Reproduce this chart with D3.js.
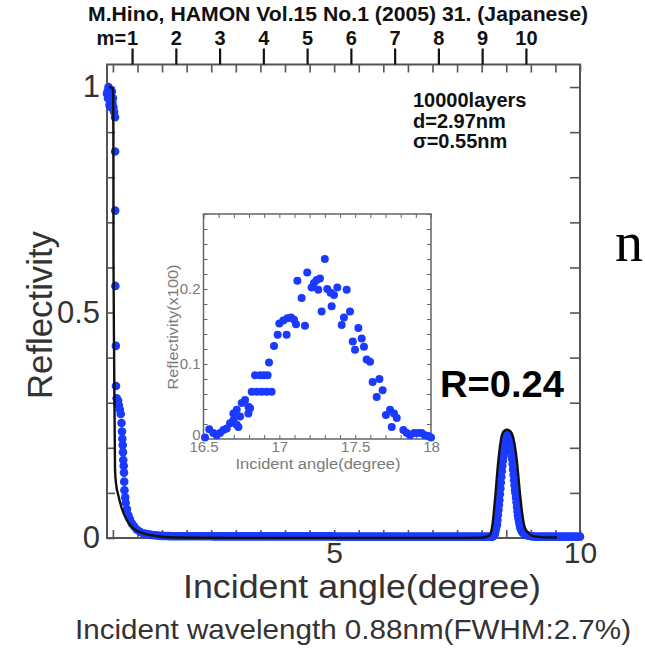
<!DOCTYPE html>
<html>
<head>
<meta charset="utf-8">
<script src="https://cdn.jsdelivr.net/npm/d3@7"></script>
<style>
  html, body { margin: 0; padding: 0; background: #fff; }
  svg { display: block; }
</style>
</head>
<body>
<svg id="chart" width="645" height="653"></svg>
<script>
// ---------------- data ----------------
// Measured reflectivity below and around the critical angle: [angle (deg), R]
const lowAngleScan = [
  [0.38, 0.985], [0.39, 0.99], [0.40, 0.975], [0.41, 1.0], [0.42, 0.985], [0.43, 0.96],
  [0.44, 0.995], [0.45, 0.97], [0.46, 0.985], [0.47, 0.955], [0.48, 0.99], [0.49, 0.965],
  [0.50, 0.975], [0.51, 0.955], [0.525, 0.945], [0.543, 0.933], [0.545, 0.857],
  [0.547, 0.726], [0.55, 0.559], [0.56, 0.426], [0.563, 0.337], [0.577, 0.31],
  [0.59, 0.30], [0.604, 0.305], [0.62, 0.295], [0.64, 0.285], [0.66, 0.275],
  [0.675, 0.255], [0.685, 0.236], [0.692, 0.22], [0.699, 0.206], [0.705, 0.19],
  [0.711, 0.173], [0.72, 0.16], [0.726, 0.145], [0.73, 0.125], [0.735, 0.106],
  [0.75, 0.09], [0.76, 0.078], [0.785, 0.064], [0.813, 0.051], [0.845, 0.042],
  [0.882, 0.033], [0.93, 0.026], [0.984, 0.019], [1.05, 0.014], [1.118, 0.010]
];

// Wide-angle scan, 0.05 deg steps from 1.15 deg
const wideScanStart = 1.15;
const wideScanStep = 0.05;
const wideScanValues = [
  0.0095, 0.0085, 0.0075, 0.0068, 0.0060, 0.0055, 0.0050, 0.0048, 0.0045, 0.0043,
  0.0042, 0.0040, 0.0040, 0.0040, 0.0040, 0.0040, 0.0040, 0.0040, 0.0040, 0.0040,
  0.0040, 0.0040, 0.0040, 0.0040, 0.0040, 0.0040, 0.0040, 0.0040, 0.0035, 0.0035,
  0.0035, 0.0035, 0.0035, 0.0035, 0.0035, 0.0035, 0.0035, 0.0035, 0.0035, 0.0035,
  0.0035, 0.0035, 0.0035, 0.0035, 0.0035, 0.0035, 0.0035, 0.0035, 0.0035, 0.0035,
  0.0035, 0.0035, 0.0035, 0.0035, 0.0035, 0.0035, 0.0035, 0.0035, 0.0035, 0.0035,
  0.0035, 0.0035, 0.0035, 0.0035, 0.0035, 0.0035, 0.0035, 0.0035, 0.0035, 0.0035,
  0.0035, 0.0035, 0.0035, 0.0035, 0.0035, 0.0035, 0.0035, 0.0035, 0.0030, 0.0030,
  0.0030, 0.0030, 0.0030, 0.0030, 0.0030, 0.0030, 0.0030, 0.0030, 0.0030, 0.0030,
  0.0030, 0.0030, 0.0030, 0.0030, 0.0030, 0.0030, 0.0030, 0.0030, 0.0030, 0.0030,
  0.0030, 0.0030, 0.0030, 0.0030, 0.0030, 0.0030, 0.0030, 0.0030, 0.0030, 0.0030,
  0.0030, 0.0030, 0.0030, 0.0030, 0.0030, 0.0030, 0.0030, 0.0030, 0.0030, 0.0030,
  0.0030, 0.0030, 0.0030, 0.0030, 0.0030, 0.0030, 0.0030, 0.0030, 0.0030, 0.0030,
  0.0030, 0.0030, 0.0030, 0.0030, 0.0030, 0.0030, 0.0030, 0.0030, 0.0030, 0.0030,
  0.0030
];

// Fine scan over the Bragg peak, 0.01 deg steps from 8.20 deg
const peakScanStart = 8.20;
const peakScanStep = 0.01;
const peakScanValues = [
  0.003, 0.003, 0.004, 0.004, 0.005, 0.006, 0.007, 0.011, 0.016, 0.021,
  0.026, 0.030, 0.040, 0.051, 0.062, 0.073, 0.084, 0.097, 0.110, 0.123,
  0.136, 0.148, 0.160, 0.171, 0.180, 0.189, 0.197, 0.205, 0.213, 0.220,
  0.226, 0.229, 0.231, 0.229, 0.226, 0.222, 0.217, 0.210, 0.203, 0.195,
  0.190, 0.183, 0.175, 0.164, 0.152, 0.140, 0.128, 0.117, 0.106, 0.099,
  0.089, 0.079, 0.069, 0.059, 0.050, 0.044, 0.038, 0.032, 0.027, 0.022,
  0.019, 0.017, 0.015, 0.013, 0.012, 0.011, 0.010, 0.009, 0.0085, 0.008,
  0.007
];

// Scan above the peak, 0.05 deg steps from 8.95 deg
const tailScanStart = 8.95;
const tailScanStep = 0.05;
const tailScanValues = [
  0.0050, 0.0040, 0.0035, 0.0030, 0.0030, 0.0030, 0.0030, 0.0030, 0.0030, 0.0030,
  0.0030, 0.0030, 0.0030, 0.0030, 0.0030, 0.0030, 0.0030, 0.0030, 0.0030, 0.0030,
  0.0030, 0.0030
];

// Calculated reflectivity (10000 layers, d=2.97nm, sigma=0.55nm)
const theoryAngles = [
  0.42, 0.49, 0.505, 0.51, 0.512, 0.525, 0.543, 0.563, 0.61, 0.679, 0.78, 0.916,
  1.12, 1.39, 1.66, 2.2, 3.0, 4.5, 6.0, 7.5, 8.0, 8.1, 8.169, 8.22, 8.27, 8.338,
  8.407, 8.46, 8.52, 8.58, 8.643, 8.712, 8.779, 8.83, 8.881, 8.983, 9.05, 9.2, 9.53
];
const theoryValues = [
  1.0, 0.998, 0.985, 0.9, 0.62, 0.4, 0.151, 0.121, 0.095, 0.066, 0.040, 0.0215,
  0.0104, 0.0044, 0.0015, 0.0006, 0.0003, 0.0002, 0.0002, 0.0003, 0.0008, 0.003, 0.007, 0.03, 0.084, 0.17,
  0.226, 0.238, 0.24, 0.237, 0.222, 0.175, 0.099, 0.05, 0.022, 0.008, 0.004, 0.002, 0.001
];
const peakReflectivity = 0.24;

// Inset: measured peak, [angle (deg), reflectivity x100]
const insetScan = [
  [16.51, 0.002], [16.538, 0.013], [16.565, 0.008], [16.587, 0.005], [16.609, 0.008],
  [16.631, 0.012], [16.653, 0.014], [16.675, 0.021], [16.697, 0.025], [16.719, 0.019],
  [16.73, 0.016], [16.697, 0.034], [16.719, 0.039], [16.741, 0.030], [16.752, 0.048],
  [16.774, 0.052], [16.796, 0.043], [16.796, 0.034], [16.807, 0.041], [16.818, 0.063],
  [16.851, 0.063], [16.884, 0.063], [16.916, 0.063], [16.949, 0.063], [16.84, 0.085],
  [16.873, 0.085], [16.899, 0.085], [16.923, 0.085], [16.932, 0.102], [16.965, 0.124],
  [16.989, 0.139], [17.048, 0.139], [17.0, 0.154], [17.026, 0.158], [17.053, 0.161],
  [17.077, 0.162], [17.097, 0.159], [17.11, 0.153], [17.169, 0.151], [17.119, 0.211],
  [17.147, 0.188], [17.184, 0.222], [17.213, 0.202], [17.228, 0.208], [17.246, 0.212],
  [17.268, 0.214], [17.257, 0.199], [17.3, 0.24], [17.279, 0.17], [17.316, 0.2],
  [17.338, 0.195], [17.36, 0.192], [17.382, 0.202], [17.444, 0.199], [17.345, 0.177],
  [17.411, 0.152], [17.426, 0.162], [17.466, 0.17], [17.484, 0.13], [17.499, 0.119],
  [17.521, 0.148], [17.543, 0.134], [17.558, 0.123], [17.576, 0.106], [17.598, 0.103],
  [17.615, 0.076], [17.642, 0.056], [17.66, 0.08], [17.681, 0.065], [17.703, 0.032],
  [17.73, 0.039], [17.756, 0.034], [17.774, 0.028], [17.741, 0.016], [17.818, 0.012],
  [17.84, 0.008], [17.862, 0.005], [17.888, 0.008], [17.914, 0.008], [17.938, 0.008],
  [17.96, 0.005], [17.982, 0.004], [18.0, 0.002]
];

// Axis labelling
const mOrders = [1, 2, 3, 4, 5, 6, 7, 8, 9, 10];
const niCriticalAngle = 0.89;          // deg per m at 0.88 nm
const xLabelTicks = [5, 10];
const yLabelTicks = [0, 0.5, 1];
const insetXLabelTicks = [16.5, 17, 17.5, 18];
const insetYLabelTicks = [0, 0.1, 0.2];
const sampleLines = ["10000layers", "d=2.97nm", "\u03c3=0.55nm"];

// ---------------- drawing ----------------
const svg = d3.select("#chart");
const SANS = "'Liberation Sans', Arial, Helvetica, sans-serif";
const DOT = "#1a3aff";
const FRAME = "#555";

const box = { left: 107, right: 580, top: 64.5, bottom: 538 };
const x = d3.scaleLinear().domain([0.38, 10]).range([box.left, box.right]);
const y = d3.scaleLinear().domain([0, 1.05]).range([box.bottom, box.top]);

function tickOnly(g, color, width) {
  g.select(".domain").remove();
  g.selectAll(".tick text").remove();
  g.selectAll(".tick line").attr("stroke", color).attr("stroke-width", width);
}
function labelOnly(g) {
  g.select(".domain").remove();
  g.selectAll(".tick line").remove();
}

// frame
svg.append("rect")
  .attr("x", box.left).attr("y", box.top)
  .attr("width", box.right - box.left).attr("height", box.bottom - box.top)
  .attr("fill", "none").attr("stroke", FRAME).attr("stroke-width", 2);

const xMinor = d3.range(0.5, 10.001, 0.5);
const yMinor = d3.range(0, 1.0001, 0.1);

svg.append("g").attr("transform", `translate(0,${box.bottom})`)
  .call(d3.axisBottom(x).tickValues(xMinor).tickSizeInner(-8).tickSizeOuter(0))
  .call(g => tickOnly(g, FRAME, 1.6));
svg.append("g").attr("transform", `translate(0,${box.top})`)
  .call(d3.axisTop(x).tickValues(xMinor).tickSizeInner(-8).tickSizeOuter(0))
  .call(g => tickOnly(g, FRAME, 1.6));
svg.append("g").attr("transform", `translate(${box.left},0)`)
  .call(d3.axisLeft(y).tickValues(yMinor).tickSizeInner(-8).tickSizeOuter(0))
  .call(g => tickOnly(g, FRAME, 1.6));
svg.append("g").attr("transform", `translate(${box.right},0)`)
  .call(d3.axisRight(y).tickValues(yMinor).tickSizeInner(-10).tickSizeOuter(0))
  .call(g => tickOnly(g, FRAME, 1.6));

// m scale on top
const mAxis = svg.append("g").attr("transform", `translate(0,${box.top})`)
  .call(d3.axisTop(x)
    .tickValues(mOrders.map(m => m * niCriticalAngle))
    .tickFormat((d, i) => String(mOrders[i]))
    .tickSizeInner(16).tickSizeOuter(0).tickPadding(4));
mAxis.select(".domain").remove();
mAxis.selectAll(".tick line").attr("stroke", "#111").attr("stroke-width", 2.2);
mAxis.selectAll(".tick text")
  .attr("font-family", SANS).attr("font-size", 20).attr("font-weight", "bold").attr("fill", "#111");
svg.append("text")
  .attr("x", x(mOrders[0] * niCriticalAngle) - 6).attr("y", box.top - 20)
  .attr("text-anchor", "end")
  .attr("font-family", SANS).attr("font-size", 20).attr("font-weight", "bold").attr("fill", "#111")
  .text("m=");

svg.append("text")
  .attr("x", 338).attr("y", 21).attr("text-anchor", "middle")
  .attr("font-family", SANS).attr("font-size", 21).attr("font-weight", "bold").attr("fill", "#111")
  .attr("textLength", 500).attr("lengthAdjust", "spacingAndGlyphs")
  .text("M.Hino, HAMON Vol.15 No.1 (2005) 31. (Japanese)");

// tick labels
const yLab = svg.append("g").attr("transform", `translate(${box.left},0)`)
  .call(d3.axisLeft(y).tickValues(yLabelTicks).tickFormat(d3.format("~g")).tickSize(0).tickPadding(7))
  .call(labelOnly);
yLab.selectAll("text").attr("font-family", SANS).attr("font-size", 31).attr("fill", "#333");

const xLab = svg.append("g").attr("transform", `translate(0,${box.bottom})`)
  .call(d3.axisBottom(x).tickValues(xLabelTicks).tickFormat(d3.format("~g")).tickSize(0).tickPadding(4))
  .call(labelOnly);
xLab.selectAll("text").attr("font-family", SANS).attr("font-size", 30).attr("fill", "#333");

// axis titles
svg.append("text")
  .attr("x", 362).attr("y", 598).attr("text-anchor", "middle")
  .attr("font-family", SANS).attr("font-size", 34).attr("fill", "#333")
  .attr("textLength", 358).attr("lengthAdjust", "spacingAndGlyphs")
  .text("Incident angle(degree)");
svg.append("text")
  .attr("transform", "translate(52,315) rotate(-90)").attr("text-anchor", "middle")
  .attr("font-family", SANS).attr("font-size", 35).attr("fill", "#333")
  .attr("textLength", 168).attr("lengthAdjust", "spacingAndGlyphs")
  .text("Reflectivity");
svg.append("text")
  .attr("x", 353).attr("y", 639).attr("text-anchor", "middle")
  .attr("font-family", SANS).attr("font-size", 28).attr("fill", "#333")
  .attr("textLength", 556).attr("lengthAdjust", "spacingAndGlyphs")
  .text("Incident wavelength 0.88nm(FWHM:2.7%)");

// sample parameters
svg.append("g").selectAll("text").data(sampleLines).join("text")
  .attr("x", 413).attr("y", (d, i) => 107 + i * 20.5)
  .attr("font-family", SANS).attr("font-size", 20).attr("font-weight", "bold").attr("fill", "#111")
  .text(d => d);

// peak label
svg.append("text")
  .attr("x", 440).attr("y", 397)
  .attr("font-family", SANS).attr("font-size", 37).attr("font-weight", "bold").attr("fill", "#000")
  .attr("textLength", 124).attr("lengthAdjust", "spacingAndGlyphs")
  .text("R=" + peakReflectivity.toFixed(2));

// serif letter at the right edge
svg.append("text")
  .attr("x", 615).attr("y", 261)
  .attr("font-family", "'Liberation Serif', 'Times New Roman', serif").attr("font-size", 56).attr("fill", "#000")
  .text("n");

// measured points
const measured = []
  .concat(lowAngleScan)
  .concat(wideScanValues.map((v, i) => [wideScanStart + i * wideScanStep, v]))
  .concat(peakScanValues.map((v, i) => [peakScanStart + i * peakScanStep, v]))
  .concat(tailScanValues.map((v, i) => [tailScanStart + i * tailScanStep, v]));

svg.append("g").selectAll("circle").data(measured).join("circle")
  .attr("cx", d => x(d[0])).attr("cy", d => y(d[1])).attr("r", 4.3)
  .attr("fill", DOT);

// calculated curve
const theory = theoryAngles.map((a, i) => [a, theoryValues[i]]);
svg.append("path").datum(theory)
  .attr("fill", "none").attr("stroke", "#111").attr("stroke-width", 2.4)
  .attr("stroke-linejoin", "round")
  .attr("d", d3.line().x(d => x(d[0])).y(d => y(d[1])).curve(d3.curveMonotoneX));

// ---------------- inset ----------------
const ibox = { left: 203.5, right: 431, top: 214, bottom: 439 };
const ix = d3.scaleLinear().domain([16.5, 18]).range([ibox.left, ibox.right]);
const iy = d3.scaleLinear().domain([0, 0.3]).range([ibox.bottom, ibox.top]);
const IFRAME = "#666";
const IGREY = "#7a7a7a";

svg.append("rect")
  .attr("x", ibox.left).attr("y", ibox.top)
  .attr("width", ibox.right - ibox.left).attr("height", ibox.bottom - ibox.top)
  .attr("fill", "#fff").attr("stroke", IFRAME).attr("stroke-width", 1.5);

const ixMinor = d3.range(16.5, 18.001, 0.1);
const iyMinor = d3.range(0, 0.3001, 0.02);
svg.append("g").attr("transform", `translate(0,${ibox.bottom})`)
  .call(d3.axisBottom(ix).tickValues(ixMinor).tickSizeInner(-4).tickSizeOuter(0))
  .call(g => tickOnly(g, IFRAME, 1));
svg.append("g").attr("transform", `translate(0,${ibox.top})`)
  .call(d3.axisTop(ix).tickValues(ixMinor).tickSizeInner(-4).tickSizeOuter(0))
  .call(g => tickOnly(g, IFRAME, 1));
svg.append("g").attr("transform", `translate(${ibox.left},0)`)
  .call(d3.axisLeft(iy).tickValues(iyMinor).tickSizeInner(-4).tickSizeOuter(0))
  .call(g => tickOnly(g, IFRAME, 1));
svg.append("g").attr("transform", `translate(${ibox.right},0)`)
  .call(d3.axisRight(iy).tickValues(iyMinor).tickSizeInner(-4).tickSizeOuter(0))
  .call(g => tickOnly(g, IFRAME, 1));

const ixLab = svg.append("g").attr("transform", `translate(0,${ibox.bottom})`)
  .call(d3.axisBottom(ix).tickValues(insetXLabelTicks).tickFormat(d3.format("~g")).tickSize(0).tickPadding(2))
  .call(labelOnly);
ixLab.selectAll("text").attr("font-family", SANS).attr("font-size", 15).attr("fill", IGREY);

const iyLab = svg.append("g").attr("transform", `translate(${ibox.left},0)`)
  .call(d3.axisLeft(iy).tickValues(insetYLabelTicks).tickFormat(d3.format("~g")).tickSize(0).tickPadding(3))
  .call(labelOnly);
iyLab.selectAll("text").attr("font-family", SANS).attr("font-size", 15).attr("fill", IGREY)
  .attr("dy", d => d === 0 ? "0.05em" : "0.32em");

svg.append("text")
  .attr("x", 318).attr("y", 469).attr("text-anchor", "middle")
  .attr("font-family", SANS).attr("font-size", 15.5).attr("fill", IGREY)
  .attr("textLength", 165).attr("lengthAdjust", "spacingAndGlyphs")
  .text("Incident angle(degree)");
svg.append("text")
  .attr("transform", "translate(178,327) rotate(-90)").attr("text-anchor", "middle")
  .attr("font-family", SANS).attr("font-size", 15).attr("fill", IGREY)
  .attr("textLength", 125).attr("lengthAdjust", "spacingAndGlyphs")
  .text("Reflectivity(x100)");

svg.append("g").selectAll("circle").data(insetScan).join("circle")
  .attr("cx", d => ix(d[0])).attr("cy", d => iy(d[1])).attr("r", 4)
  .attr("fill", DOT);
</script>
</body>
</html>
